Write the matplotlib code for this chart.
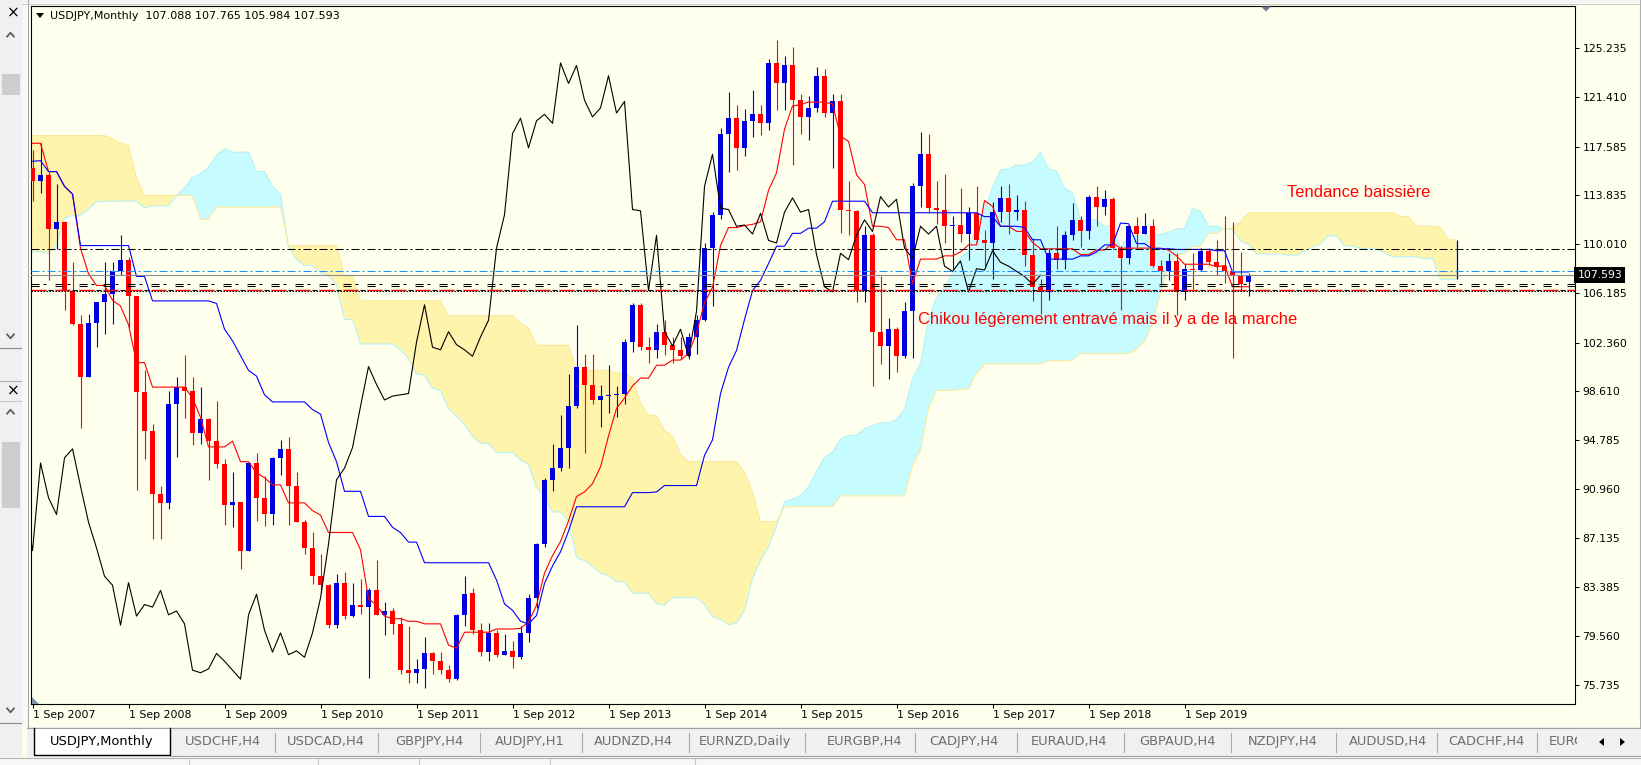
import numpy as np
import matplotlib
matplotlib.use("Agg")
import matplotlib.pyplot as plt
from matplotlib import transforms
from matplotlib.patches import Rectangle, Polygon

plt.rcParams['font.family'] = ['DejaVu Sans']
plt.rcParams['lines.scale_dashes'] = False

# ---- monthly highs / lows before the visible window (Mar 2001 .. Aug 2007),
# only needed so the Ichimoku lines exist at the left edge
pre_high = [126.3, 126.8, 124.0, 125.0, 126.0, 125.2, 121.8, 123.2, 124.0, 131.8,   # 2001
            135.2, 134.7, 134.0, 133.7, 128.6, 125.3, 120.5, 120.8, 124.1, 125.6, 125.3, 125.9,
            120.5, 121.3, 121.4, 121.0, 120.0, 120.0, 120.6, 120.0, 118.3, 111.6, 110.5, 110.0,
            107.8, 110.0, 112.2, 110.5, 114.9, 111.0, 112.5, 112.0, 111.5, 111.9, 106.5, 106.0,
            105.0, 106.7, 107.6, 108.5, 108.5, 111.0, 113.7, 112.2, 113.7, 116.5, 121.4, 121.4,
            117.4, 119.4, 118.6, 118.8, 113.7, 115.4, 117.5, 117.3, 118.3, 119.9, 118.8, 119.3,
            122.2, 122.2, 119.0, 120.0, 122.0, 124.1, 123.7, 119.7]
pre_low = [117.3, 121.0, 118.4, 118.5, 123.0, 118.5, 115.8, 119.0, 119.5, 122.0,
           130.5, 132.0, 126.5, 127.5, 123.3, 118.5, 115.5, 116.2, 116.0, 121.6, 120.7, 118.5,
           117.0, 116.8, 116.5, 118.1, 115.9, 116.5, 116.6, 116.0, 110.9, 107.9, 107.5, 106.8,
           105.0, 104.6, 103.4, 103.5, 109.0, 106.9, 107.8, 108.5, 108.8, 105.6, 102.0, 101.8,
           101.7, 103.0, 103.6, 104.5, 104.5, 106.5, 110.0, 108.8, 109.0, 113.0, 115.5, 115.9,
           113.4, 115.3, 115.8, 113.3, 108.9, 111.5, 113.5, 113.9, 115.2, 116.5, 115.4, 115.0,
           118.5, 117.6, 115.1, 116.9, 118.6, 120.7, 118.2, 111.6]

# ---- visible candles, Sep 2007 .. May 2020
open_ = [115.9, 114.9, 115.4, 111.2,
         111.7, 106.4, 103.8, 99.7, 103.9, 105.5, 106.1, 107.9, 108.8, 106.0, 98.5, 95.5,
         90.6, 89.9, 97.6, 98.9, 98.6, 95.3, 96.4, 94.7, 92.9, 89.7, 90.0, 86.2,
         93.0, 90.3, 89.0, 93.4, 94.1, 91.2, 88.4, 86.4, 84.2, 83.5, 80.4, 83.7,
         81.1, 82.0, 81.8, 83.1, 81.2, 81.5, 80.5, 76.9, 76.7, 77.0, 78.2, 77.6,
         76.9, 76.2, 81.2, 82.9, 80.0, 78.3, 79.8, 78.1, 78.4, 77.9, 79.8, 82.5,
         86.7, 91.7, 92.6, 94.2, 97.4, 100.5, 99.1, 97.9, 98.2, 98.3, 98.4, 102.4,
         105.3, 102.0, 101.8, 103.2, 102.2, 101.8, 101.3, 102.8, 104.1, 109.7, 112.3, 118.6,
         119.8, 117.5, 119.6, 120.1, 119.4, 124.1, 122.5, 123.9, 121.2, 119.9, 120.6, 123.1,
         120.2, 121.1, 112.7, 112.6, 106.4, 110.7, 103.2, 102.1, 103.4, 101.3, 104.8, 114.5,
         117.0, 112.8, 112.7, 111.4, 111.5, 110.8, 112.4, 110.3, 110.1, 112.5, 113.6, 112.5,
         112.7, 109.2, 106.7, 106.3, 109.3, 108.8, 110.7, 111.9, 111.0, 113.7, 112.9, 113.5,
         109.7, 108.9, 111.4, 110.8, 111.4, 108.3, 107.9, 108.7, 106.3, 108.1, 108.0, 109.5,
         108.6, 108.3, 107.9, 107.5, 107.088]
high_ = [117.3, 117.9, 115.6, 114.7,
         111.8, 108.6, 104.5, 104.6, 105.5, 108.6, 108.6, 110.7, 109.0, 106.0, 100.2, 96.0,
         91.2, 98.6, 99.7, 101.4, 99.7, 98.9, 96.5, 97.8, 93.3, 92.3, 90.0, 93.1,
         93.8, 92.0, 93.5, 94.8, 95.0, 92.3, 88.6, 87.6, 85.9, 83.6, 84.4, 84.5,
         83.7, 84.0, 83.3, 85.5, 82.2, 81.7, 81.0, 80.3, 77.8, 79.5, 78.3, 78.3,
         77.3, 81.3, 84.2, 83.3, 80.6, 80.6, 80.0, 79.7, 79.2, 80.3, 82.8, 86.8,
         91.8, 94.5, 96.7, 99.9, 103.7, 101.5, 101.5, 99.1, 100.6, 99.0, 102.6, 105.4,
         105.4, 102.8, 103.8, 104.1, 102.8, 102.8, 103.1, 104.5, 110.1, 112.5, 119.0, 121.8,
         120.8, 120.5, 122.0, 120.8, 124.4, 125.9, 124.6, 125.3, 121.7, 121.5, 123.8, 123.6,
         121.7, 121.7, 114.9, 112.7, 111.4, 110.9, 107.5, 104.3, 103.6, 105.5, 114.8, 118.7,
         118.6, 114.9, 115.5, 112.2, 114.4, 112.9, 114.5, 111.1, 113.3, 114.5, 114.7, 113.8,
         113.4, 110.5, 107.3, 109.6, 111.4, 111.0, 113.2, 112.2, 113.8, 114.5, 114.2, 113.7,
         109.9, 111.5, 112.1, 112.4, 112.0, 108.8, 109.3, 109.3, 108.5, 109.3, 109.7, 109.7,
         110.3, 112.2, 111.7, 109.4, 107.765]
low_ = [113.4, 114.0, 107.2, 109.6,
        104.9, 103.7, 95.7, 99.7, 102.0, 103.0, 103.8, 107.6, 103.5, 90.9, 93.3, 87.1,
        87.1, 89.4, 93.5, 96.5, 94.4, 94.5, 91.7, 92.6, 88.2, 88.0, 84.8, 86.2,
        88.5, 88.1, 88.2, 92.1, 88.2, 88.4, 85.9, 83.6, 82.9, 80.2, 80.2, 80.9,
        81.0, 81.3, 76.3, 81.2, 79.6, 79.7, 76.6, 75.9, 75.9, 75.5, 76.6, 76.6,
        76.0, 76.1, 80.3, 79.7, 78.0, 77.6, 77.9, 78.1, 77.1, 77.8, 79.1, 81.7,
        86.5, 90.8, 92.4, 92.6, 97.3, 93.8, 97.6, 95.8, 96.9, 96.6, 97.6, 101.6,
        101.8, 100.8, 101.2, 101.4, 100.8, 101.1, 101.1, 101.5, 104.0, 105.2, 112.0, 115.6,
        115.8, 116.9, 118.3, 118.5, 118.9, 120.4, 120.4, 116.2, 118.6, 118.1, 120.3, 119.9,
        115.9, 110.9, 110.7, 105.5, 105.5, 99.0, 100.7, 99.5, 100.1, 101.2, 101.2, 112.9,
        112.5, 111.6, 110.1, 108.1, 110.2, 108.8, 110.2, 108.3, 107.3, 111.7, 110.8, 111.9,
        108.3, 105.6, 104.6, 105.7, 108.1, 108.1, 110.3, 109.8, 110.4, 111.4, 112.3, 109.6,
        104.9, 108.5, 109.7, 110.8, 108.2, 106.8, 107.2, 104.5, 105.7, 106.5, 107.9, 108.4,
        107.6, 107.0, 101.2, 106.4, 105.984]
close_ = [114.9, 115.4, 111.2, 111.7,
          106.4, 103.8, 99.7, 103.9, 105.5, 106.1, 107.9, 108.8, 106.0, 98.5, 95.5, 90.6,
          89.9, 97.6, 98.9, 98.6, 95.3, 96.4, 94.7, 92.9, 89.7, 90.0, 86.2, 93.0,
          90.3, 89.0, 93.4, 94.1, 91.2, 88.4, 86.4, 84.2, 83.5, 80.4, 83.7, 81.1,
          82.0, 81.8, 83.1, 81.2, 81.5, 80.5, 76.9, 76.7, 77.0, 78.2, 77.6, 76.9,
          76.2, 81.2, 82.8, 80.0, 78.3, 79.8, 78.1, 78.4, 77.9, 79.8, 82.5, 86.7,
          91.7, 92.6, 94.2, 97.4, 100.5, 99.1, 97.9, 98.2, 98.3, 98.4, 102.4, 105.3,
          102.0, 101.8, 103.2, 102.2, 101.8, 101.3, 102.8, 104.1, 109.7, 112.3, 118.6, 119.8,
          117.5, 119.6, 120.1, 119.4, 124.1, 122.5, 123.9, 121.2, 119.9, 120.6, 123.1, 120.2,
          121.1, 112.7, 112.6, 106.4, 110.7, 103.2, 102.1, 103.4, 101.3, 104.8, 114.5, 117.0,
          112.8, 112.7, 111.4, 111.5, 110.8, 112.4, 110.3, 110.1, 112.5, 113.6, 112.5, 112.7,
          109.2, 106.7, 106.3, 109.3, 108.8, 110.7, 111.9, 111.0, 113.7, 112.9, 113.5, 109.7,
          108.9, 111.4, 110.8, 111.4, 108.3, 107.9, 108.7, 106.3, 108.1, 108.0, 109.5, 108.6,
          108.3, 107.9, 107.5, 106.9, 107.593]

price_ticks = [125.235, 121.410, 117.585, 113.835, 110.010, 106.185, 102.360,
               98.610, 94.785, 90.960, 87.135, 83.385, 79.560, 75.735]
date_labels = ['1 Sep %d' % y for y in range(2007, 2020)]
date_pos = [12 * k for k in range(len(date_labels))]

# horizontal objects drawn by the user, plus the bid line
level_prices = [109.64, 107.93, 106.93, 106.78, 106.47, 106.47, 106.34]
bid = 107.593

tabs = ['USDCHF,H4', 'USDCAD,H4', 'GBPJPY,H4', 'AUDJPY,H1', 'AUDNZD,H4',
        'EURNZD,Daily', 'EURGBP,H4', 'CADJPY,H4', 'EURAUD,H4', 'GBPAUD,H4',
        'NZDJPY,H4', 'AUDUSD,H4', 'CADCHF,H4']
tab_x = [223, 326, 429, 530, 633, 745, 865, 964, 1069, 1178, 1283, 1388, 1486]

# ---- colours
BG = '#FFFFEE'
BULL = '#0000DD'
BEAR = '#FF0000'
CLOUD_UP = '#C6FCFF'
CLOUD_DN = '#FFF4AC'
PANEL = '#F0F0F0'

W, H = 1641, 765
PX = 0.72  # one pixel in points

# ---- ichimoku from the price data
full_h = np.array(pre_high + high_)
full_l = np.array(pre_low + low_)
n_pre = len(pre_high)


def midline(period):
    out = np.full(len(full_h), np.nan)
    for t in range(period - 1, len(full_h)):
        out[t] = (full_h[t - period + 1:t + 1].max() + full_l[t - period + 1:t + 1].min()) / 2
    return out


tenkan = midline(9)
kijun = midline(26)
span_b = midline(52)
span_a = (tenkan + kijun) / 2

full_x = np.arange(len(full_h)) - n_pre
vis = full_x >= 0
ok = ~np.isnan(span_b)
sx = full_x[ok] + 26
sa = span_a[ok]
sb = span_b[ok]

o = np.array(open_)
h = np.array(high_)
l = np.array(low_)
c = np.array(close_)
x = np.arange(len(c))

fig = plt.figure(figsize=(W / 100, H / 100), dpi=100)
fig.patch.set_facecolor(BG)
ax = fig.add_axes([31 / W, 1 - 704 / H, (1575 - 31) / W, (704 - 6) / H])
ax.set_facecolor(BG)

# cloud
ax.fill_between(sx, sa, sb, where=sa >= sb, interpolate=True, color=CLOUD_UP, lw=0, zorder=1)
ax.fill_between(sx, sa, sb, where=sa < sb, interpolate=True, color=CLOUD_DN, lw=0, zorder=1)
ax.plot(sx, sa, color='#B6F2F6', lw=0.8, zorder=1.2)
ax.plot(sx, sb, color='#F8EBA0', lw=0.8, zorder=1.2)
ax.vlines(sx[-1], sa[-1], sb[-1], color='#000080', lw=0.9, zorder=1.5)

# candles
col = np.where(c >= o, BULL, BEAR)
ax.vlines(x, l, h, colors=col, lw=0.8, zorder=3)
ax.bar(x, np.maximum(np.abs(c - o), 0.09), bottom=np.minimum(o, c), width=0.62,
       color=col, lw=0, zorder=3)

# ichimoku lines
ax.plot(full_x[vis], tenkan[vis], color='#FF0000', lw=0.8, zorder=4)
ax.plot(full_x[vis], kijun[vis], color='#0000FF', lw=0.8, zorder=4)
ax.plot(x - 26, c, color='black', lw=0.8, zorder=4)

# horizontal levels
dd = (8 * PX, 3 * PX, 2 * PX, 3 * PX)
level_styles = [
    dict(color='black', dashes=dd),
    dict(color='#1E90FF', dashes=dd),
    dict(color='black', dashes=(8 * PX, 4 * PX, 3 * PX, 9 * PX)),
    dict(color='black', dashes=(8 * PX, 16 * PX)),
    dict(color='#FF0000', dashes=(15 * PX, 9 * PX), lw=1.0),
    dict(color='black', dashes=(0, 17 * PX, 5 * PX, 2 * PX)),
    dict(color='black', dashes=(1.5 * PX, 1.5 * PX)),
]
for p, st in zip(level_prices, level_styles):
    st = dict(st)
    lw = st.pop('lw', 0.75)
    ax.axhline(p, lw=lw, zorder=5, **st)
ax.axhline(bid, color='#8C8C8C', lw=0.8, zorder=5)

# annotations
ax.text(156.8, 113.68, 'Tendance baissière', color='#FF0000', fontsize=11.9,
        family=['Liberation Sans', 'DejaVu Sans'], va='baseline', zorder=6)
ax.text(110.7, 103.79, 'Chikou légèrement entravé mais il y a de la marche', color='#FF0000',
        fontsize=11.9, family=['Liberation Sans', 'DejaVu Sans'], va='baseline', zorder=6)

ax.set_xlim(-0.19, 192.81)
ax.set_ylim(74.27, 128.52)

ax.yaxis.tick_right()
ax.set_yticks(price_ticks)
ax.set_yticklabels(['%.3f' % v for v in price_ticks])
ax.tick_params(axis='y', direction='out', length=2.9, width=0.72, pad=2.4, labelsize=7.8)
ax.set_xticks(date_pos)
ax.set_xticklabels(date_labels, ha='left')
ax.tick_params(axis='x', direction='out', length=2.9, width=0.72, pad=1.6, labelsize=7.8)
for s in ax.spines.values():
    s.set_linewidth(0.8)
    s.set_color('black')

# bid price box on the scale
tr = transforms.blended_transform_factory(ax.transAxes, ax.transData)
ax.text(1.0015, bid, '%.3f' % bid, transform=tr, color='white', fontsize=7.8,
        va='center', ha='left', zorder=7,
        bbox=dict(boxstyle='square,pad=0.28', fc='black', ec='none'))

# ---- terminal window furniture, in pixel coordinates
ui = fig.add_axes([0, 0, 1, 1], zorder=10)
ui.set_xlim(0, W)
ui.set_ylim(H, 0)
ui.axis('off')


def rect(x0, y0, w, hh, **kw):
    ui.add_patch(Rectangle((x0, y0), w, hh, **kw))


def chevron(cx, cy, up):
    d = -2.3 if up else 2.3
    ui.plot([cx - 4, cx, cx + 4], [cy - d, cy + d, cy - d], color='#606060', lw=1.3,
            solid_capstyle='butt')


rect(0, 0, 22, 765, fc=PANEL, ec='none')
rect(22, 0, 5, 727, fc='#F8F8F8', ec='none')
ui.plot([27.5, 27.5], [0, 727], color='#A8A8A8', lw=0.8)
rect(22, 0, W - 22, 3, fc='#F4F4F4', ec='none')
ui.plot([22, W], [3.5, 3.5], color='#C8C8C8', lw=0.7)
ui.plot([W - 1.5, W - 1.5], [0, 727], color='#B0B0B0', lw=0.8)

# upper panel of the sidebar
ui.text(13.5, 13, '×', fontsize=11, ha='center', va='center', color='black')
chevron(10.5, 35, True)
rect(2, 74, 18, 21, fc='#CDCDCD', ec='none')
chevron(10.5, 336, False)
ui.plot([0, 21], [347.5, 347.5], color='#8C8C8C', lw=0.8)
ui.plot([0, 21], [380.5, 380.5], color='#B4B4B4', lw=0.8)
# lower panel
ui.text(13.5, 391, '×', fontsize=11, ha='center', va='center', color='black')
ui.plot([0, 21], [400.5, 400.5], color='#C8C8C8', lw=0.8)
chevron(10.5, 412, True)
rect(2, 442, 18, 66, fc='#CDCDCD', ec='none')
chevron(10.5, 710, False)
ui.plot([0, 21], [722.5, 722.5], color='#8C8C8C', lw=0.8)

# chart header and shift markers
ui.add_patch(Polygon([(36, 13), (44, 13), (40, 18)], closed=True, fc='black', ec='none'))
ui.text(50, 16, 'USDJPY,Monthly  107.088 107.765 105.984 107.593', fontsize=8,
        ha='left', va='center', color='black')
ui.add_patch(Polygon([(1261, 6.5), (1271, 6.5), (1266, 11.5)], closed=True,
                     fc='#6E7C91', ec='none'))
ui.add_patch(Polygon([(32, 697), (32, 703.5), (39, 703.5)], closed=True,
                     fc='#8494A8', ec='none'))

# tab strip
rect(27, 727, W - 27, 30, fc=PANEL, ec='none')
ui.plot([27, W], [727.5, 727.5], color='#A0A0A0', lw=0.8)
rect(34, 728, 136, 27, fc='white', ec='none')
ui.plot([34, 34, 170, 170], [728, 755, 755, 728], color='black', lw=1.0)
ui.plot([170, W], [755.5, 755.5], color='#A0A0A0', lw=0.8)
ui.text(102, 742, 'USDJPY,Monthly', fontsize=9.4, ha='center', va='center', color='black')
for i, (name, tx) in enumerate(zip(tabs, tab_x)):
    ui.text(tx, 742, name, fontsize=9.4, ha='center', va='center', color='#6E6E6E')
    if i + 1 < len(tab_x):
        sep = (tx + tab_x[i + 1]) / 2
        ui.plot([sep, sep], [733, 752], color='#A8A8A8', lw=0.8)
ui.plot([1537, 1537], [733, 752], color='#A8A8A8', lw=0.8)
ui.text(1549, 742, 'EURCHF,H4', fontsize=9.4, ha='left', va='center', color='#6E6E6E',
        zorder=3)
rect(1577, 729, W - 1577, 26, fc=PANEL, ec='none', zorder=4)
ui.add_patch(Polygon([(1599, 742), (1604, 738), (1604, 746)], closed=True, fc='black',
                     ec='none', zorder=5))
ui.add_patch(Polygon([(1625, 742), (1620, 738), (1620, 746)], closed=True, fc='black',
                     ec='none', zorder=5))

# status strip
rect(0, 757, W, 8, fc='#F7F7F7', ec='none', zorder=4)
ui.plot([0, W], [757.5, 757.5], color='#B4B4B4', lw=0.8, zorder=5)
for sx_ in [189, 318, 419, 550, 695]:
    ui.plot([sx_, sx_], [759, 765], color='#C8C8C8', lw=0.8, zorder=5)

fig.savefig('out.png', dpi=100, facecolor=BG)
